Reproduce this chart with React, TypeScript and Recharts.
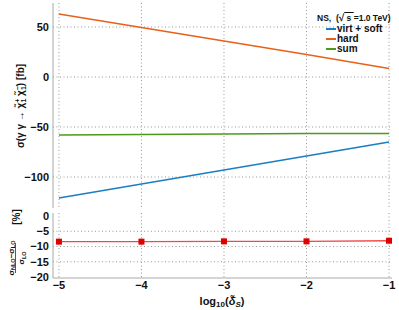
import React from 'react';
import { LineChart, Line, XAxis, YAxis, CartesianGrid } from 'recharts';

// log10(delta_S) sample points
const logDelta = [-5, -4, -3, -2, -1];
// cross sections [fb]
const virtSoft = [-121, -107, -93, -79, -65];
const hard = [63, 49.5, 36, 22.5, 8.5];
const sum = [-58, -57.5, -57, -56.5, -56.5];
// relative correction [%]
const ratio = [-8.4, -8.4, -8.3, -8.3, -8.1];

const xMajor = [-5, -4, -3, -2, -1];
const topMajor = [-100, -50, 0, 50];
const botMajor = [-20, -15, -10, -5, 0];
const botGrid = [-15, -10, -5];

const range = (a: number, b: number, s: number) => {
  const out: number[] = [];
  for (let v = a; v <= b + 1e-9; v += s) out.push(Math.round(v * 100) / 100);
  return out;
};
const xMinor = range(-5, -1, 0.2);
const topMinor = range(-130, 70, 10);
const botMinor = range(-20, 0, 1);

const series = [
  { key: 'virtSoft', name: 'virt + soft', color: '#1a7fc1' },
  { key: 'hard', name: 'hard', color: '#e8601a' },
  { key: 'sum', name: 'sum', color: '#4c9a1a' },
];

const topData = logDelta.map((x, i) => ({ x, virtSoft: virtSoft[i], hard: hard[i], sum: sum[i] }));
const botData = logDelta.map((x, i) => ({ x, ratio: ratio[i] }));

const xDomain: [number, number] = [-5.072, -0.964];
const topDomain: [number, number] = [-131, 74];
const botDomain: [number, number] = [-20.33, 1];

const frame = '#a8a8a8';
const font = 'Liberation Sans, Arial, sans-serif';
const minus = (v: number) => String(v).replace('-', '\u2212');
const noLabel = () => <g />;

function frameX(id: string, orient: 'top' | 'bottom') {
  return [
    <XAxis key={id + 'M'} xAxisId={id + 'M'} type="number" orientation={orient} mirror height={0}
      domain={xDomain} allowDataOverflow ticks={xMajor} interval={0} tick={noLabel} tickSize={4}
      axisLine={{ stroke: frame }} tickLine={{ stroke: frame }} />,
    <XAxis key={id + 'm'} xAxisId={id + 'm'} type="number" orientation={orient} mirror height={0}
      domain={xDomain} allowDataOverflow ticks={xMinor} interval={0} tick={noLabel} tickSize={2}
      axisLine={false} tickLine={{ stroke: frame }} />,
  ];
}

function frameY(id: string, orient: 'left' | 'right', domain: [number, number], major: number[], minor: number[]) {
  return [
    <YAxis key={id + 'M'} yAxisId={id + 'M'} type="number" orientation={orient} mirror width={0}
      domain={domain} allowDataOverflow ticks={major} interval={0} tick={noLabel} tickSize={4}
      axisLine={orient === 'right' ? { stroke: frame } : false} tickLine={{ stroke: frame }} />,
    <YAxis key={id + 'm'} yAxisId={id + 'm'} type="number" orientation={orient} mirror width={0}
      domain={domain} allowDataOverflow ticks={minor} interval={0} tick={noLabel} tickSize={2}
      axisLine={false} tickLine={{ stroke: frame }} />,
  ];
}

const tickStyle = { fontSize: 11, fontWeight: 700, fill: '#111', fontFamily: font };

const Square = (p: any) => {
  if (p.cx == null || p.cy == null) return <g key={p.index} />;
  return <rect key={p.index} x={p.cx - 3} y={p.cy - 3} width={6} height={6} fill="#e00000" />;
};

export default function App() {
  return (
    <div style={{ position: 'absolute', left: 0, top: 0, width: 399, height: 310, background: '#fff' }}>
      <div style={{ position: 'absolute', left: 0, top: 0 }}>
        <LineChart width={399} height={212} data={topData} margin={{ top: 3, right: 7, bottom: 4, left: 0 }}>
          <CartesianGrid xAxisId="main" yAxisId="main" stroke="#999" strokeDasharray="1 2.5"
            verticalValues={xMajor} horizontalValues={topMajor} />
          {frameX('b', 'bottom')}
          {frameX('t', 'top')}
          {frameY('l', 'left', topDomain, topMajor, topMinor)}
          {frameY('r', 'right', topDomain, topMajor, topMinor)}
          <XAxis xAxisId="main" dataKey="x" type="number" domain={xDomain} allowDataOverflow ticks={xMajor}
            interval={0} mirror height={0} tick={noLabel} tickLine={false} axisLine={false} />
          <YAxis yAxisId="main" type="number" domain={topDomain} allowDataOverflow ticks={topMajor} interval={0}
            width={53} tickSize={0} tickMargin={4} tickLine={false} axisLine={{ stroke: frame }}
            tick={tickStyle} tickFormatter={minus} />
          {series.map((s) => (
            <Line key={s.key} xAxisId="main" yAxisId="main" type="linear" dataKey={s.key} stroke={s.color}
              strokeWidth={1.6} dot={false} isAnimationActive={false} />
          ))}
        </LineChart>
      </div>
      <div style={{ position: 'absolute', left: 0, top: 210 }}>
        <LineChart width={399} height={100} data={botData} margin={{ top: 3, right: 7, bottom: 0, left: 0 }}>
          <CartesianGrid xAxisId="main" yAxisId="main" stroke="#999" strokeDasharray="1 2.5"
            verticalValues={xMajor} horizontalValues={botGrid} />
          {frameX('b', 'bottom')}
          {frameX('t', 'top')}
          {frameY('l', 'left', botDomain, botMajor, botMinor)}
          {frameY('r', 'right', botDomain, botMajor, botMinor)}
          <XAxis xAxisId="main" dataKey="x" type="number" domain={xDomain} allowDataOverflow ticks={xMajor}
            interval={0} height={32} tickSize={0} tickMargin={3} tickLine={false} axisLine={{ stroke: frame }}
            tick={tickStyle} tickFormatter={minus} />
          <YAxis yAxisId="main" type="number" domain={botDomain} allowDataOverflow ticks={botMajor} interval={0}
            width={53} tickSize={0} tickMargin={4} tickLine={false} axisLine={{ stroke: frame }}
            tick={tickStyle} tickFormatter={minus} />
          <Line xAxisId="main" yAxisId="main" type="linear" dataKey="ratio" stroke="#ef4a4a" strokeWidth={1.4}
            dot={Square} isAnimationActive={false} />
        </LineChart>
      </div>

      <svg width={399} height={310} style={{ position: 'absolute', left: 0, top: 0, pointerEvents: 'none' }}
        fontFamily={font} fontWeight={700} fill="#111">
        <text transform="translate(24,106) rotate(-90)" textAnchor="middle" fontSize={10}>
          σ(γ γ → χ̃<tspan fontSize={7} dy={-4}>+</tspan><tspan fontSize={7} dx={-4} dy={6}>1</tspan>
          <tspan dy={-2}> χ̃</tspan><tspan fontSize={7} dy={-4}>−</tspan><tspan fontSize={7} dx={-4} dy={6}>1</tspan>
          <tspan dy={-2}>) [fb]</tspan>
        </text>
        <g transform="translate(16,247) rotate(-90)">
          <text x={-11} y={-2.5} textAnchor="middle" fontSize={8}>
            σ<tspan fontSize={5.5} dy={1.5}>NLO</tspan><tspan dy={-1.5}>−σ</tspan><tspan fontSize={5.5} dy={1.5}>LO</tspan>
          </text>
          <line x1={-26} x2={4} y1={-0.5} y2={-0.5} stroke="#111" strokeWidth={0.7} />
          <text x={-11} y={8} textAnchor="middle" fontSize={8}>
            σ<tspan fontSize={5.5} dy={1.5}>LO</tspan>
          </text>
          <text x={30} y={4} textAnchor="middle" fontSize={10}>[%]</text>
        </g>
        <text x={222} y={305} textAnchor="middle" fontSize={11}>
          log<tspan fontSize={8} dy={2}>10</tspan><tspan dy={-2}>(</tspan><tspan fontStyle="italic">δ̃</tspan>
          <tspan fontSize={8} dy={2} fontStyle="italic">S</tspan><tspan dy={-2}>)</tspan>
        </text>
      </svg>

      <div style={{ position: 'absolute', left: 317, top: 12, fontFamily: font, fontWeight: 700, color: '#111' }}>
        <div style={{ fontSize: 8.5, lineHeight: '11px', whiteSpace: 'nowrap' }}>
          NS,&nbsp; (<span style={{ fontSize: 10 }}>√</span><span style={{ textDecoration: 'overline' }}>&nbsp;s&nbsp;</span>=1.0 TeV)
        </div>
        {series.map((s) => (
          <div key={s.key} style={{ display: 'flex', alignItems: 'center', fontSize: 10, lineHeight: '10px', height: 10, marginLeft: 9 }}>
            <span style={{ display: 'inline-block', width: 10, height: 2, background: s.color, marginRight: 1 }} />
            {s.name}
          </div>
        ))}
      </div>
    </div>
  );
}
